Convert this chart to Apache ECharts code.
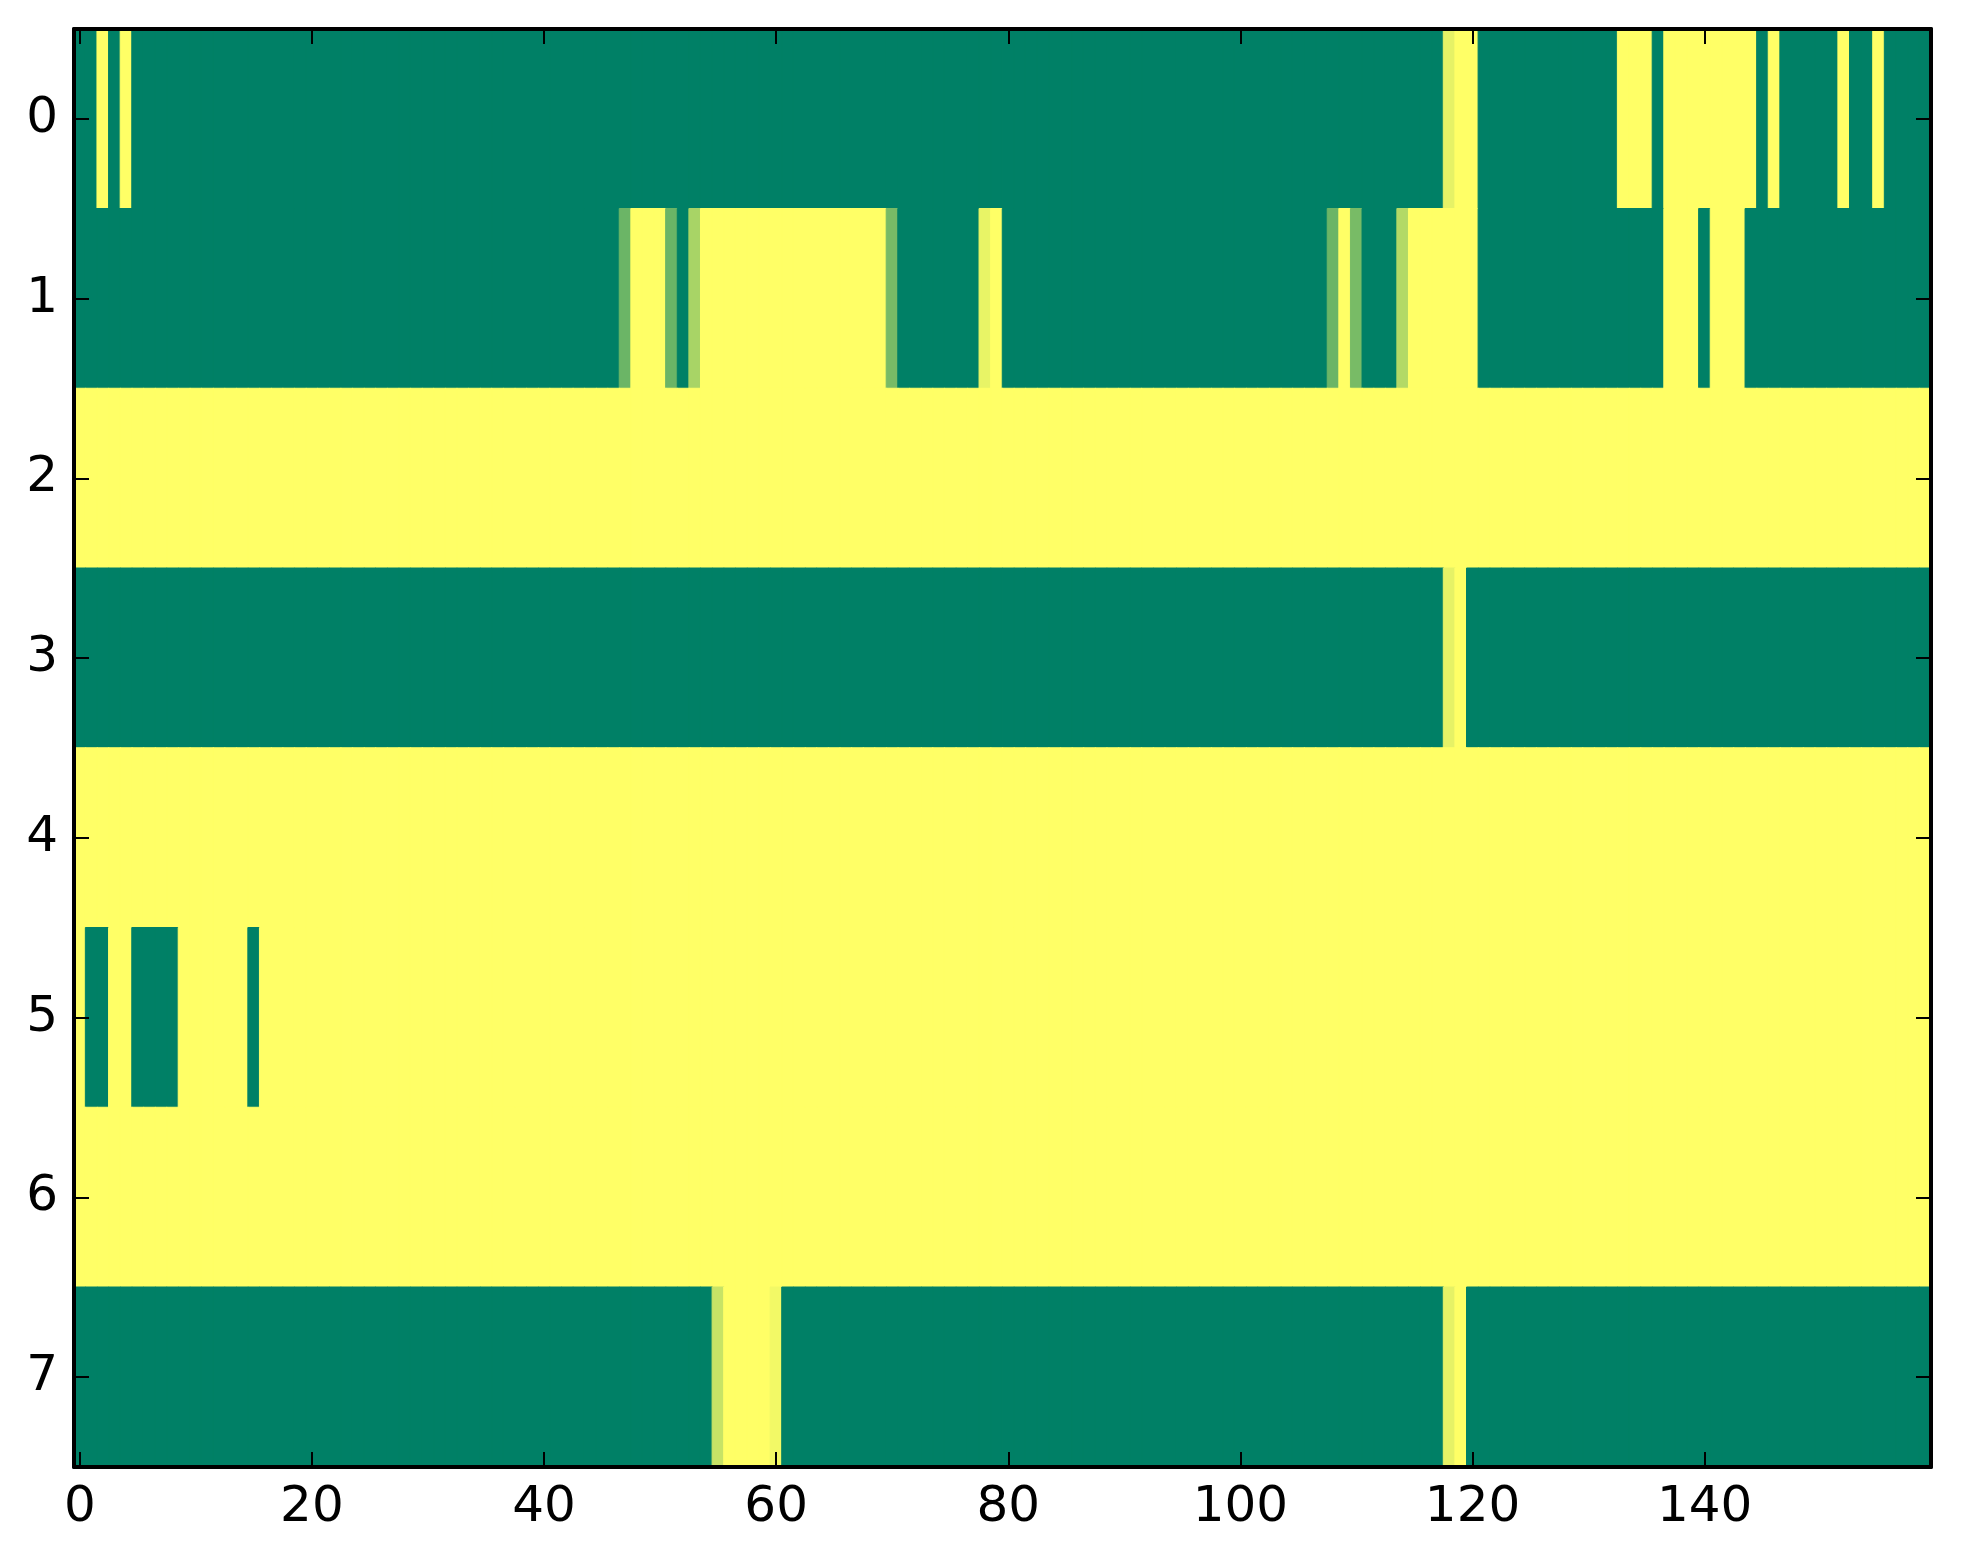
<!DOCTYPE html>
<html>
<head>
<meta charset="utf-8">
<script src="https://cdn.jsdelivr.net/npm/echarts@6/dist/echarts.min.js"></script>
<style>
  html, body { margin: 0; padding: 0; background: #fff; }
  #ech { width: 1963px; height: 1564px; }
</style>
</head>
<body>
<div id="ech"></div>
<script>
// row values, 160 columns each (0 = green, 1 = yellow)
var row0 = [
  0,0,1,0,1,0,0,0,0,0,0,0,0,0,0,0,0,0,0,0,
  0,0,0,0,0,0,0,0,0,0,0,0,0,0,0,0,0,0,0,0,
  0,0,0,0,0,0,0,0,0,0,0,0,0,0,0,0,0,0,0,0,
  0,0,0,0,0,0,0,0,0,0,0,0,0,0,0,0,0,0,0,0,
  0,0,0,0,0,0,0,0,0,0,0,0,0,0,0,0,0,0,0,0,
  0,0,0,0,0,0,0,0,0,0,0,0,0,0,0,0,0,0,0.9,1,
  1,0,0,0,0,0,0,0,0,0,0,0,0,1,1,1,0,1,1,1,
  1,1,1,1,1,0,1,0,0,0,0,0,1,0,0,1,0,0,0,0
];
var row1 = [
  0,0,0,0,0,0,0,0,0,0,0,0,0,0,0,0,0,0,0,0,
  0,0,0,0,0,0,0,0,0,0,0,0,0,0,0,0,0,0,0,0,
  0,0,0,0,0,0,0,0.42,1,1,1,0.42,0,0.66,1,1,1,1,1,1,
  1,1,1,1,1,1,1,1,1,1,0.47,0,0,0,0,0,0,0,0.91,1,
  0,0,0,0,0,0,0,0,0,0,0,0,0,0,0,0,0,0,0,0,
  0,0,0,0,0,0,0,0,0.42,1,0.47,0,0,0,0.7,1,1,1,1,1,
  1,0,0,0,0,0,0,0,0,0,0,0,0,0,0,0,0,1,1,1,
  0,1,1,1,0,0,0,0,0,0,0,0,0,0,0,0,0,0,0,0
];
var row2 = [
  1,1,1,1,1,1,1,1,1,1,1,1,1,1,1,1,1,1,1,1,
  1,1,1,1,1,1,1,1,1,1,1,1,1,1,1,1,1,1,1,1,
  1,1,1,1,1,1,1,1,1,1,1,1,1,1,1,1,1,1,1,1,
  1,1,1,1,1,1,1,1,1,1,1,1,1,1,1,1,1,1,1,1,
  1,1,1,1,1,1,1,1,1,1,1,1,1,1,1,1,1,1,1,1,
  1,1,1,1,1,1,1,1,1,1,1,1,1,1,1,1,1,1,1,1,
  1,1,1,1,1,1,1,1,1,1,1,1,1,1,1,1,1,1,1,1,
  1,1,1,1,1,1,1,1,1,1,1,1,1,1,1,1,1,1,1,1
];
var row3 = [
  0,0,0,0,0,0,0,0,0,0,0,0,0,0,0,0,0,0,0,0,
  0,0,0,0,0,0,0,0,0,0,0,0,0,0,0,0,0,0,0,0,
  0,0,0,0,0,0,0,0,0,0,0,0,0,0,0,0,0,0,0,0,
  0,0,0,0,0,0,0,0,0,0,0,0,0,0,0,0,0,0,0,0,
  0,0,0,0,0,0,0,0,0,0,0,0,0,0,0,0,0,0,0,0,
  0,0,0,0,0,0,0,0,0,0,0,0,0,0,0,0,0,0,0.9,1,
  0,0,0,0,0,0,0,0,0,0,0,0,0,0,0,0,0,0,0,0,
  0,0,0,0,0,0,0,0,0,0,0,0,0,0,0,0,0,0,0,0
];
var row4 = [
  1,1,1,1,1,1,1,1,1,1,1,1,1,1,1,1,1,1,1,1,
  1,1,1,1,1,1,1,1,1,1,1,1,1,1,1,1,1,1,1,1,
  1,1,1,1,1,1,1,1,1,1,1,1,1,1,1,1,1,1,1,1,
  1,1,1,1,1,1,1,1,1,1,1,1,1,1,1,1,1,1,1,1,
  1,1,1,1,1,1,1,1,1,1,1,1,1,1,1,1,1,1,1,1,
  1,1,1,1,1,1,1,1,1,1,1,1,1,1,1,1,1,1,1,1,
  1,1,1,1,1,1,1,1,1,1,1,1,1,1,1,1,1,1,1,1,
  1,1,1,1,1,1,1,1,1,1,1,1,1,1,1,1,1,1,1,1
];
var row5 = [
  1,0,0,1,1,0,0,0,0,1,1,1,1,1,1,0,1,1,1,1,
  1,1,1,1,1,1,1,1,1,1,1,1,1,1,1,1,1,1,1,1,
  1,1,1,1,1,1,1,1,1,1,1,1,1,1,1,1,1,1,1,1,
  1,1,1,1,1,1,1,1,1,1,1,1,1,1,1,1,1,1,1,1,
  1,1,1,1,1,1,1,1,1,1,1,1,1,1,1,1,1,1,1,1,
  1,1,1,1,1,1,1,1,1,1,1,1,1,1,1,1,1,1,1,1,
  1,1,1,1,1,1,1,1,1,1,1,1,1,1,1,1,1,1,1,1,
  1,1,1,1,1,1,1,1,1,1,1,1,1,1,1,1,1,1,1,1
];
var row6 = [
  1,1,1,1,1,1,1,1,1,1,1,1,1,1,1,1,1,1,1,1,
  1,1,1,1,1,1,1,1,1,1,1,1,1,1,1,1,1,1,1,1,
  1,1,1,1,1,1,1,1,1,1,1,1,1,1,1,1,1,1,1,1,
  1,1,1,1,1,1,1,1,1,1,1,1,1,1,1,1,1,1,1,1,
  1,1,1,1,1,1,1,1,1,1,1,1,1,1,1,1,1,1,1,1,
  1,1,1,1,1,1,1,1,1,1,1,1,1,1,1,1,1,1,1,1,
  1,1,1,1,1,1,1,1,1,1,1,1,1,1,1,1,1,1,1,1,
  1,1,1,1,1,1,1,1,1,1,1,1,1,1,1,1,1,1,1,1
];
var row7 = [
  0,0,0,0,0,0,0,0,0,0,0,0,0,0,0,0,0,0,0,0,
  0,0,0,0,0,0,0,0,0,0,0,0,0,0,0,0,0,0,0,0,
  0,0,0,0,0,0,0,0,0,0,0,0,0,0,0,0.78,1,1,1,1,
  0.95,0,0,0,0,0,0,0,0,0,0,0,0,0,0,0,0,0,0,0,
  0,0,0,0,0,0,0,0,0,0,0,0,0,0,0,0,0,0,0,0,
  0,0,0,0,0,0,0,0,0,0,0,0,0,0,0,0,0,0,0.9,1,
  0,0,0,0,0,0,0,0,0,0,0,0,0,0,0,0,0,0,0,0,
  0,0,0,0,0,0,0,0,0,0,0,0,0,0,0,0,0,0,0,0
];
var rows = [row0, row1, row2, row3, row4, row5, row6, row7];
var rowLabels = ['0', '1', '2', '3', '4', '5', '6', '7'];
var colLabels = row0.map(function (v, i) { return String(i); }); // column index 0..159

// summer colormap: 0 -> #008066, 1 -> #ffff66
function summer(v) {
    var r = Math.round(255 * v);
    var g = Math.round(255 * (0.5 + 0.5 * v));
    return 'rgb(' + r + ',' + g + ',102)';
}

$data = [];
rows.forEach(function (r, y) {
    r.forEach(function (v, x) {
        var c = summer(v);
        // border in the same colour hides the hairline seams between cells
        $data.push({ value: [x, y, v], itemStyle: { color: c, borderColor: c, borderWidth: 1 } });
    });
});

var ownChart = echarts.init(document.getElementById('ech'));
var font = 'DejaVu Sans';
var tick = { show: true, inside: true, length: 15, alignWithLabel: true, lineStyle: { color: '#000', width: 2 } };
var line = { show: true, onZero: false, lineStyle: { color: '#000', width: 4 } };

var option = {
    animation: false,
    backgroundColor: '#fff',
    grid: { left: 74, right: 32, top: 29, bottom: 97 },
    xAxis: [{
        type: 'category', data: colLabels, position: 'bottom', z: 10,
        axisLine: line,
        axisTick: Object.assign({}, tick, { interval: 19 }),
        axisLabel: { interval: 19, margin: 16, fontFamily: font, fontSize: 50, color: '#000' },
        splitLine: { show: false }
    }, {
        type: 'category', data: colLabels, position: 'top', z: 10,
        axisLine: line,
        axisTick: Object.assign({}, tick, { interval: 19 }),
        axisLabel: { show: false },
        splitLine: { show: false }
    }],
    yAxis: [{
        type: 'category', data: rowLabels, inverse: true, position: 'left', z: 10,
        axisLine: line,
        axisTick: tick,
        axisLabel: { margin: 16, fontFamily: font, fontSize: 50, color: '#000' },
        splitLine: { show: false }
    }, {
        type: 'category', data: rowLabels, inverse: true, position: 'right', z: 10,
        axisLine: line,
        axisTick: tick,
        axisLabel: { show: false },
        splitLine: { show: false }
    }],
    series: [{
        type: 'heatmap',
        xAxisIndex: 0, yAxisIndex: 0,
        data: $data,
        emphasis: { disabled: true }
    }]
};

ownChart.setOption(option);
</script>
</body>
</html>
